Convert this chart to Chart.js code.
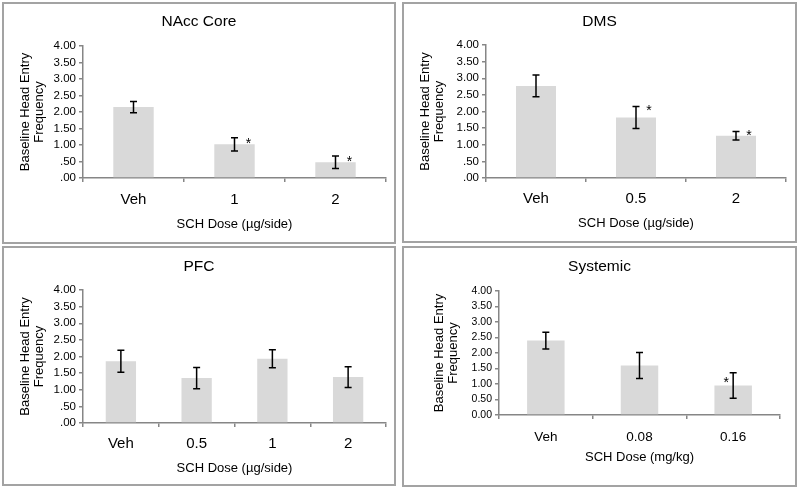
<!DOCTYPE html>
<html>
<head>
<meta charset="utf-8">
<script src="https://cdn.jsdelivr.net/npm/chart.js@4.4.0/dist/chart.umd.min.js"></script>
<style>
  body { margin: 0; background: #fff; width: 800px; height: 489px; overflow: hidden; }
  .panel { position: absolute; border: 2px solid #a3a3a3; box-sizing: border-box; background: #fff; }
  .panel canvas { display: block; }
</style>
</head>
<body>
<div class="panel" style="left:2px;top:2px;width:394px;height:242px"><canvas id="c1" width="390" height="238"></canvas></div>
<div class="panel" style="left:402px;top:2px;width:395px;height:241px"><canvas id="c2" width="391" height="237"></canvas></div>
<div class="panel" style="left:2px;top:246px;width:394px;height:240px"><canvas id="c3" width="390" height="236"></canvas></div>
<div class="panel" style="left:402px;top:246px;width:395px;height:241px"><canvas id="c4" width="391" height="237"></canvas></div>
<script>
// data (mean +/- error)
const naccLabels = ["Veh", "1", "2"];
const naccMeans = [2.15, 1.02, 0.48];
const naccErr = [0.17, 0.20, 0.19];
const naccStars = ["", "*", "*"];

const dmsLabels = ["Veh", "0.5", "2"];
const dmsMeans = [2.77, 1.82, 1.27];
const dmsErr = [0.33, 0.33, 0.125];
const dmsStars = ["", "*", "*"];

const pfcLabels = ["Veh", "0.5", "1", "2"];
const pfcMeans = [1.86, 1.35, 1.93, 1.38];
const pfcErr = [0.33, 0.32, 0.27, 0.31];
const pfcStars = ["", "", "", ""];

const sysLabels = ["Veh", "0.08", "0.16"];
const sysMeans = [2.40, 1.60, 0.95];
const sysErr = [0.27, 0.42, 0.41];
const sysStars = ["", "", "*"];

const yTicksDot = [".00", ".50", "1.00", "1.50", "2.00", "2.50", "3.00", "3.50", "4.00"];
const yTicksZero = ["0.00", "0.50", "1.00", "1.50", "2.00", "2.50", "3.00", "3.50", "4.00"];

const yTitle = ["Baseline Head Entry", "Frequency"];
const FONT = "Arial, 'Liberation Sans', sans-serif";
const AXIS = "#868686";

// error bars + significance stars, placed through the chart scales
const errorBars = {
  id: "errorBars",
  afterDatasetsDraw(chart, args, opts) {
    const ctx = chart.ctx;
    const x = chart.scales.x, y = chart.scales.y;
    const means = chart.data.datasets[0].data;
    ctx.save();
    ctx.strokeStyle = "#000";
    ctx.lineWidth = 1.5;
    means.forEach((m, i) => {
      const cx = x.getPixelForValue(i);
      const top = y.getPixelForValue(m + opts.err[i]);
      const bot = y.getPixelForValue(m - opts.err[i]);
      ctx.beginPath();
      ctx.moveTo(cx, top); ctx.lineTo(cx, bot);
      ctx.moveTo(cx - 3.5, top); ctx.lineTo(cx + 3.5, top);
      ctx.moveTo(cx - 3.5, bot); ctx.lineTo(cx + 3.5, bot);
      ctx.stroke();
      if (opts.stars[i]) {
        ctx.font = "14px " + FONT;
        ctx.fillStyle = "#000";
        ctx.textAlign = "center";
        ctx.textBaseline = "alphabetic";
        ctx.fillText(opts.stars[i], cx + opts.starDx, top + opts.starDy + 8);
      }
    });
    ctx.restore();
  }
};

function makeChart(id, g, d) {
  const pad = g.w - g.plotR;
  const xLh = g.xSize * 1.2;
  new Chart(document.getElementById(id), {
    type: "bar",
    data: {
      labels: d.labels,
      datasets: [{ data: d.means, backgroundColor: "#d9d9d9", categoryPercentage: 1, barPercentage: 0.4 }]
    },
    options: {
      responsive: false,
      animation: false,
      devicePixelRatio: 1,
      layout: { padding: { left: pad, right: pad, top: 0, bottom: 0 } },
      plugins: {
        legend: { display: false },
        tooltip: { enabled: false },
        title: {
          display: true,
          text: d.title,
          color: "#000",
          font: { family: FONT, size: 15.5, weight: "normal", lineHeight: 1.2 },
          padding: { top: g.titleY - 9.3, bottom: g.plotT - (g.titleY - 9.3) - 18.6 }
        },
        errorBars: { err: d.err, stars: d.stars, starDx: g.starDx, starDy: g.starDy }
      },
      scales: {
        x: {
          grid: { drawOnChartArea: false, drawTicks: true, tickLength: 4, color: AXIS, lineWidth: 1.5, offset: true },
          border: { color: AXIS, width: 1.5 },
          ticks: { color: "#000", font: { family: FONT, size: g.xSize, lineHeight: 1.2 }, padding: g.xLabY - g.plotB - 4 - xLh / 2, maxRotation: 0, autoSkip: false },
          title: {
            display: true, text: d.xTitle, color: "#000",
            font: { family: FONT, size: 13, lineHeight: 1.2 },
            padding: { top: 0, bottom: g.h - g.xTitleY - 7.8 }
          },
          afterFit: (s) => { s.height = g.h - g.plotB; }
        },
        y: {
          min: 0, max: 4,
          grid: { drawOnChartArea: false, drawTicks: true, tickLength: 4, color: AXIS, lineWidth: 1.5 },
          border: { color: AXIS, width: 1.5 },
          ticks: { stepSize: 0.5, autoSkip: false, padding: 3, color: "#000", font: { family: FONT, size: g.ySize }, callback: (v, i) => d.yTicks[i] },
          title: {
            display: true, text: yTitle, color: "#000",
            font: { family: FONT, size: 13, lineHeight: 1.1 },
            padding: { top: g.yTitleX - pad - 7.15, bottom: 0 }
          },
          afterFit: (s) => { s.width = g.plotL - pad; }
        }
      }
    },
    plugins: [errorBars]
  });
}

makeChart("c1",
  { w: 390, h: 238, plotL: 79, plotR: 382, plotT: 42, plotB: 174, titleY: 18, xLabY: 196, xTitleY: 220, yTitleX: 21, xSize: 15, ySize: 11.5, starDx: 14, starDy: 2 },
  { title: "NAcc Core", labels: naccLabels, means: naccMeans, err: naccErr, stars: naccStars, yTicks: yTicksDot, xTitle: "SCH Dose (µg/side)" });

makeChart("c2",
  { w: 391, h: 237, plotL: 82, plotR: 382, plotT: 41, plotB: 174, titleY: 18, xLabY: 195, xTitleY: 219, yTitleX: 21, xSize: 15, ySize: 11.5, starDx: 13, starDy: 0 },
  { title: "DMS", labels: dmsLabels, means: dmsMeans, err: dmsErr, stars: dmsStars, yTicks: yTicksDot, xTitle: "SCH Dose (µg/side)" });

makeChart("c3",
  { w: 390, h: 236, plotL: 79, plotR: 382, plotT: 42, plotB: 175, titleY: 19, xLabY: 196, xTitleY: 220, yTitleX: 21, xSize: 15, ySize: 11.5, starDx: 13, starDy: 2 },
  { title: "PFC", labels: pfcLabels, means: pfcMeans, err: pfcErr, stars: pfcStars, yTicks: yTicksDot, xTitle: "SCH Dose (µg/side)" });

makeChart("c4",
  { w: 391, h: 237, plotL: 95, plotR: 376, plotT: 43, plotB: 167, titleY: 19, xLabY: 189, xTitleY: 209, yTitleX: 35, xSize: 13.5, ySize: 10.5, starDx: -7, starDy: 6 },
  { title: "Systemic", labels: sysLabels, means: sysMeans, err: sysErr, stars: sysStars, yTicks: yTicksZero, xTitle: "SCH Dose (mg/kg)" });
</script>
</body>
</html>
